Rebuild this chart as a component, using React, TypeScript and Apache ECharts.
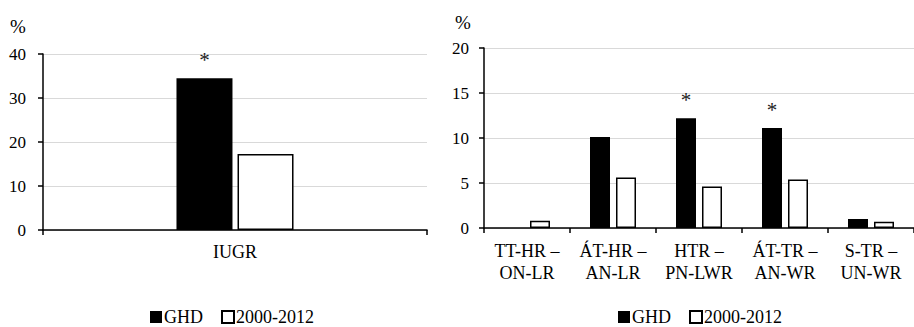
import React, { useEffect, useRef } from "react";
import * as echarts from "echarts";

const leftCategories = ["IUGR"];
const leftGHD = [34.5];
const leftRef = [17.3];
const leftStar = [true];

const rightCategories = [
  "TT-HR –\nON-LR",
  "ÁT-HR –\nAN-LR",
  "HTR –\nPN-LWR",
  "ÁT-TR –\nAN-WR",
  "S-TR –\nUN-WR",
];
const rightGHD = [0, 10.1, 12.2, 11.1, 1.0];
const rightRef = [0.8, 5.6, 4.6, 5.4, 0.7];
const rightStar = [false, false, true, true, false];

const seriesNames = ["GHD", "2000-2012"];

const FONT = "Liberation Serif";

function starData(values: number[], stars: boolean[]) {
  return values.map((v, i) => ({
    value: v,
    label: {
      show: stars[i],
      position: "top" as const,
      distance: 8,
      formatter: "*",
      fontFamily: FONT,
      fontSize: 21,
      color: "#222",
    },
  }));
}

export default function App() {
  const ref = useRef<HTMLDivElement>(null);
  useEffect(() => {
    if (!ref.current) return;
    const chart = echarts.init(ref.current, null, { renderer: "svg" });
    const axisLabel = { fontFamily: FONT, fontSize: 18, color: "#000" };
    const yCommon = {
      type: "value" as const,
      axisLine: { show: true, lineStyle: { color: "#000", width: 1.5 } },
      axisTick: { show: true, length: 5, lineStyle: { color: "#000", width: 1.5 } },
      splitLine: { show: true, lineStyle: { color: "#d9d9d9", width: 1 } },
    };
    const xCommon = {
      type: "category" as const,
      axisLine: { show: true, lineStyle: { color: "#000", width: 1.5 } },
      axisTick: { show: true, length: 5, alignWithLabel: false, lineStyle: { color: "#000", width: 1.5 } },
    };
    const black = { color: "#000", borderColor: "#000", borderWidth: 0 };
    const white = { color: "#fff", borderColor: "#000", borderWidth: 1.5 };
    const legendCommon = {
      data: seriesNames,
      icon: "rect",
      itemWidth: 12,
      itemHeight: 12,
      itemGap: 18,
      padding: 0,
      textStyle: { fontFamily: FONT, fontSize: 18, color: "#000", padding: [0, 0, 0, -3] },
    };
    chart.setOption({
      animation: false,
      grid: [
        { left: 43, top: 54, width: 384, height: 176 },
        { left: 484, top: 48, width: 440, height: 180 },
      ],
      xAxis: [
        {
          ...xCommon,
          gridIndex: 0,
          data: leftCategories,
          axisLabel: { ...axisLabel, margin: 13 },
        },
        {
          ...xCommon,
          gridIndex: 1,
          data: rightCategories,
          axisLabel: { ...axisLabel, margin: 12, lineHeight: 22, interval: 0 },
        },
      ],
      yAxis: [
        { ...yCommon, gridIndex: 0, min: 0, max: 40, interval: 10, axisLabel: { ...axisLabel, fontSize: 17, margin: 17 } },
        { ...yCommon, gridIndex: 1, min: 0, max: 20, interval: 5, axisLabel: { ...axisLabel, fontSize: 17, margin: 15 } },
      ],
      legend: [
        { ...legendCommon, left: 150, top: 308 },
        { ...legendCommon, left: 618, top: 308 },
      ],
      graphic: [
        { type: "text", left: 10, top: 17, style: { text: "%", font: `19px "${FONT}"`, fill: "#000" } },
        { type: "text", left: 455, top: 13, style: { text: "%", font: `19px "${FONT}"`, fill: "#000" } },
      ],
      series: [
        {
          name: seriesNames[0],
          type: "bar",
          xAxisIndex: 0,
          yAxisIndex: 0,
          barWidth: 56,
          barGap: "9%",
          itemStyle: black,
          data: starData(leftGHD, leftStar),
        },
        {
          name: seriesNames[1],
          type: "bar",
          xAxisIndex: 0,
          yAxisIndex: 0,
          barWidth: 56,
          barGap: "9%",
          itemStyle: white,
          data: leftRef,
        },
        {
          name: seriesNames[0],
          type: "bar",
          xAxisIndex: 1,
          yAxisIndex: 1,
          barWidth: 20,
          barGap: "30%",
          itemStyle: black,
          data: starData(rightGHD, rightStar),
        },
        {
          name: seriesNames[1],
          type: "bar",
          xAxisIndex: 1,
          yAxisIndex: 1,
          barWidth: 20,
          barGap: "30%",
          itemStyle: white,
          data: rightRef,
        },
      ],
    });
    return () => chart.dispose();
  }, []);
  return <div ref={ref} style={{ width: 914, height: 327, position: "absolute", left: 0, top: 0, background: "#fff" }} />;
}
